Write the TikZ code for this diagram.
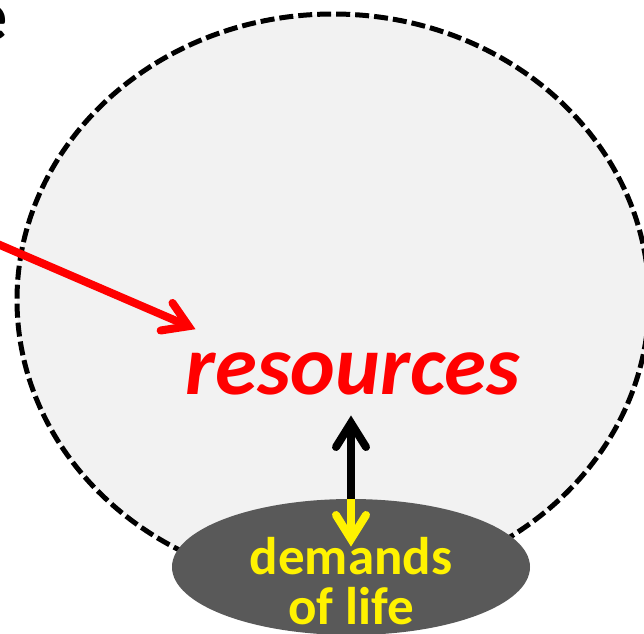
\documentclass[tikz,border=0pt]{standalone}
\usepackage{fontspec}
\setmainfont{Carlito}
\usetikzlibrary{shapes.geometric}
\definecolor{cloudgray}{HTML}{F2F2F2}
\definecolor{demandgray}{HTML}{595959}
\tikzset{
  shaft/.style={line width=8pt},
  chev/.style={line width=8pt,line cap=round,line join=miter},
  pool/.style={ellipse,draw=black,fill=cloudgray,line width=5pt,dash pattern=on 14pt off 5pt,minimum width=632pt,minimum height=572pt,inner sep=0pt},
  demand/.style={ellipse,fill=demandgray,minimum width=358pt,minimum height=136pt,inner sep=0pt},
  lbl/.style={font=\bfseries,inner sep=0pt,align=center},
}
\newcommand{\chevhead}[3]{\draw[chev,#3,shift={(#1)},rotate=#2] (-24pt,15pt) -- (0pt,0pt) -- (-24pt,-15pt);}
\begin{document}
\begin{tikzpicture}[x=1pt,y=-1pt]
\useasboundingbox (0,0) rectangle (644,633);
\clip (0,0) rectangle (644,633);
\node[lbl,font=\bfseries\fontsize{72}{72}\selectfont,anchor=base east] (cut) at (8,40.5) {e};
\node[pool] (res) at (333,300) {};
\node[lbl,text=red,font=\bfseries\itshape\fontsize{85}{85}\selectfont,anchor=base] (rtext) at (353,394) {resources};
\node[demand] (dem) at (351,567) {};
\coordinate (redstart) at (-10,240.7);
\coordinate (redend) at (188.6,326.2);
\coordinate (up) at (351,423);
\coordinate (down) at (351,539);
\coordinate (dtop) at (351,499);
\draw[shaft,red] (redstart) -- (redend);
\chevhead{redend}{-23.3}{red}
\draw[shaft,black] (dtop) -- (up);
\chevhead{up}{90}{black}
\draw[shaft,yellow] (dtop) -- (down);
\chevhead{down}{-90}{yellow}
\node[lbl,text=yellow,font=\bfseries\fontsize{53}{53}\selectfont,anchor=base] (d1) at (351,574) {demands};
\node[lbl,text=yellow,font=\bfseries\fontsize{53}{53}\selectfont,anchor=base] (d2) at (351,624) {of life};
\end{tikzpicture}
\end{document}
